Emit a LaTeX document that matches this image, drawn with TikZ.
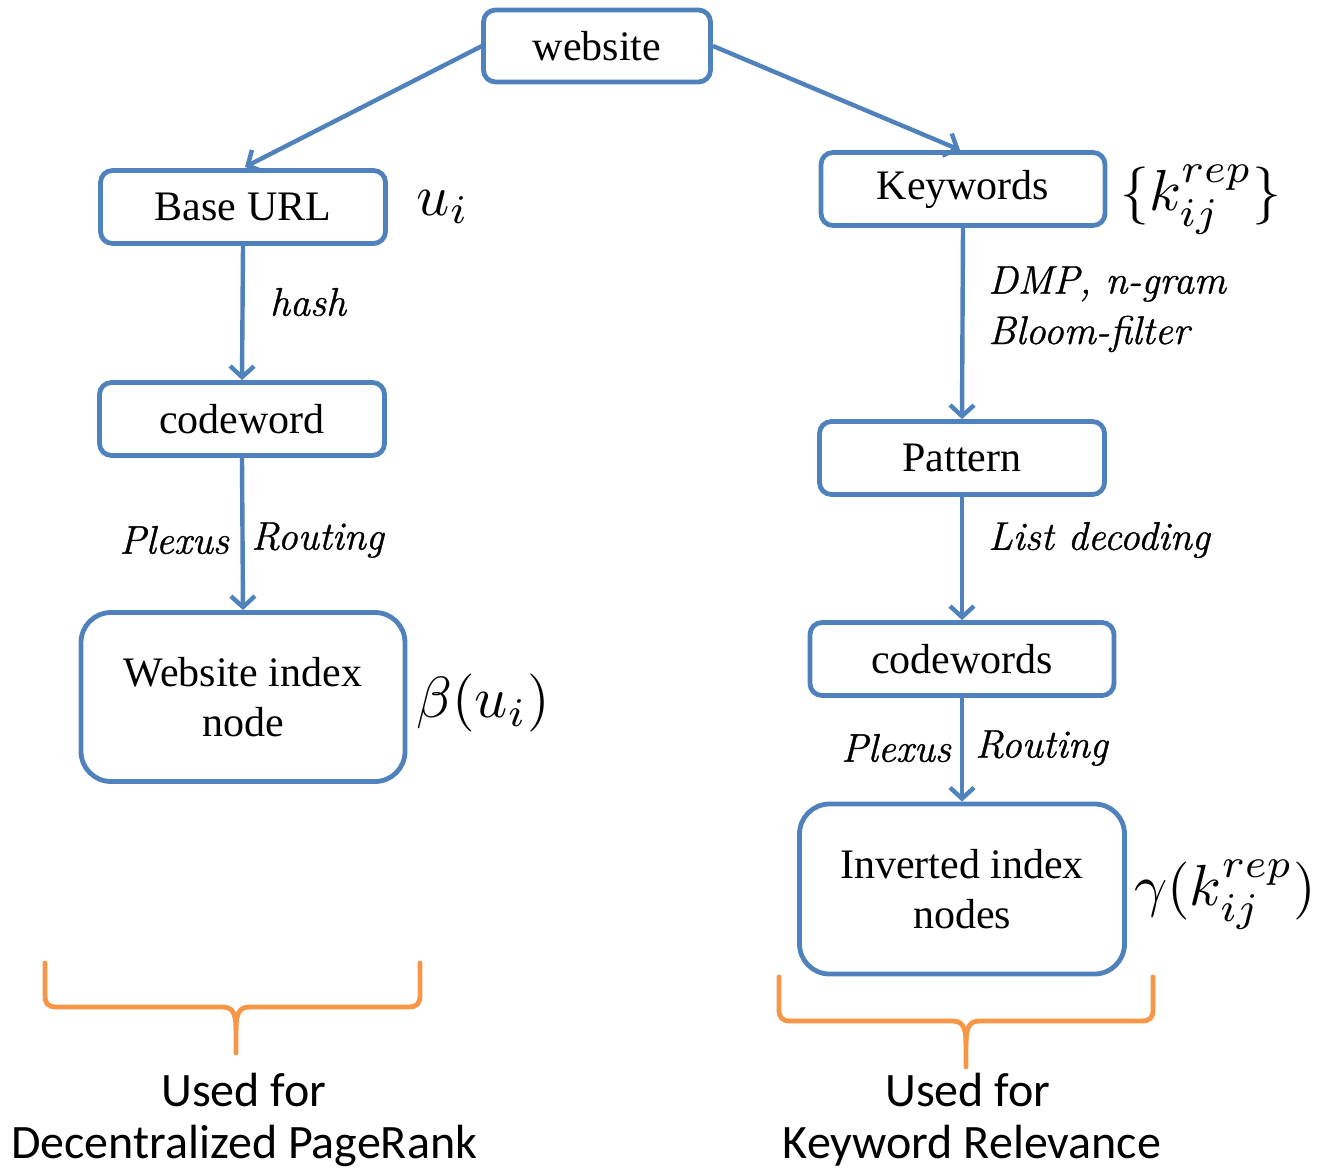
\documentclass[tikz,border=0pt]{standalone}
\usepackage{fontspec}
\setmainfont{Liberation Serif}
\newfontfamily\lmrom{Latin Modern Roman}[ItalicFeatures={FakeBold=0.9}]
\newfontfamily\calib{Carlito}
\usetikzlibrary{arrows.meta}
\definecolor{boxblue}{RGB}{79,129,189}
\definecolor{braceorange}{RGB}{247,150,70}
\newcommand{\bigmath}[1]{\scalebox{5.8}{$#1$}}
\begin{document}
\begin{tikzpicture}[x=1pt,y=-1pt,
  box/.style={draw=boxblue,line width=4.8pt,rounded corners=12pt,inner sep=0pt,
    font=\fontsize{42}{50}\selectfont,align=center},
  bigbox/.style={box,rounded corners=30pt},
  conn/.style={draw=boxblue,line width=4.4pt,-{Straight Barb[length=11pt,width=24pt]}},
  lab/.style={font=\lmrom\itshape\fontsize{40}{50}\selectfont,inner sep=0pt},
  mlab/.style={inner sep=0pt},
  brace/.style={draw=braceorange,line width=4.8pt,line cap=round},
  btext/.style={font=\calib\fontsize{48}{56}\selectfont,align=center,inner sep=0pt}]
\useasboundingbox (0,0) rectangle (1318,1169);
% boxes
\node[box,minimum width=227pt,minimum height=72pt] (web) at (597,46) {website};
\node[box,minimum width=285pt,minimum height=73pt] (base) at (243,207) {Base URL};
\node[box,minimum width=285pt,minimum height=73pt] (cw) at (242,419) {codeword};
\node[bigbox,minimum width=324pt,minimum height=169pt] (wi) at (243,697) {Website index\\node};
\node[box,minimum width=284pt,minimum height=73pt] (kw) at (963,189) {Keywords};
\node[box,minimum width=285pt,minimum height=73pt] (pat) at (962,458) {Pattern};
\node[box,minimum width=304pt,minimum height=73pt] (cws) at (962,659) {codewords};
\node[bigbox,minimum width=325pt,minimum height=170pt] (inv) at (962,889) {Inverted index\\nodes};
% connectors
\coordinate (webL) at (482,46);
\coordinate (webR) at (713,46);
\coordinate (baseT) at (245,167);
\coordinate (kwT) at (960,150);
\draw[conn] (webL) -- (baseT);
\draw[conn] (webR) -- (kwT);
\draw[conn] (base.south) -- (cw.north);
\draw[conn] (cw.south) -- (wi.north);
\draw[conn] (kw.south) -- (pat.north);
\draw[conn] (pat.south) -- (cws.north);
\draw[conn] (cws.south) -- (inv.north);
% labels
\node[lab] (hash) at (308,302) {hash};
\node[lab,anchor=east] (plx1) at (229,540) {Plexus};
\node[lab,anchor=west] (rt1) at (251,540) {Routing};
\node[lab,anchor=west] (dmp) at (988,284) {DMP, n-gram};
\node[lab,anchor=west] (bloom) at (988,334) {Bloom-filter};
\node[lab,anchor=west] (ld) at (988,540) {List decoding};
\node[lab,anchor=east] (plx2) at (951,748) {Plexus};
\node[lab,anchor=west] (rt2) at (975,748) {Routing};
% math labels
\node[mlab] (ui) at (443,207) {\bigmath{u_i}};
\node[mlab] (beta) at (483,703) {\bigmath{\beta(u_i)}};
\node[mlab] (kset) at (1201,200) {\bigmath{\{k_{ij}^{rep}\}}};
\node[mlab] (gam) at (1225,895) {\bigmath{\gamma(k_{ij}^{rep})}};
% braces
\draw[brace] (45,963) -- (45,995) .. controls (45,1004) and (48,1007) .. (57,1007) -- (222,1007)
  .. controls (232,1007) and (236,1012) .. (236,1030) -- (236,1053);
\draw[brace] (420,963) -- (420,995) .. controls (420,1004) and (417,1007) .. (408,1007) -- (250,1007)
  .. controls (240,1007) and (236,1012) .. (236,1030);
\draw[brace] (779,977) -- (779,1009) .. controls (779,1018) and (782,1021) .. (791,1021) -- (952,1021)
  .. controls (962,1021) and (966,1026) .. (966,1044) -- (966,1067);
\draw[brace] (1153,977) -- (1153,1009) .. controls (1153,1018) and (1150,1021) .. (1141,1021) -- (980,1021)
  .. controls (970,1021) and (966,1026) .. (966,1044);
% bottom texts
\node[btext] (u1) at (244,1090) {Used for};
\node[btext] (d1) at (244,1146) {Decentralized PageRank};
\node[btext] (u2) at (968,1090) {Used for};
\node[btext] (d2) at (972,1146) {Keyword Relevance};
\end{tikzpicture}
\end{document}
